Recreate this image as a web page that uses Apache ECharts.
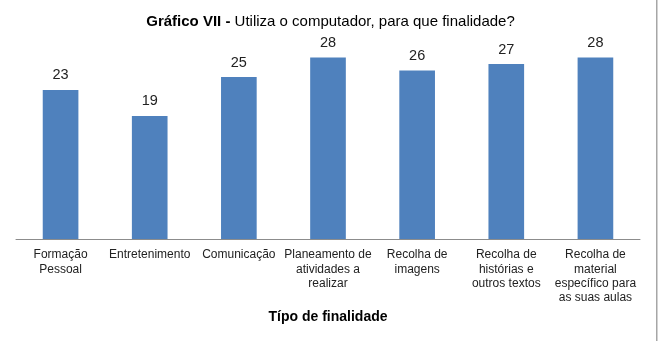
<!DOCTYPE html>
<html>
<head>
<meta charset="utf-8">
<script src="https://cdn.jsdelivr.net/npm/echarts@6/dist/echarts.min.js"></script>
<style>
  html, body { margin: 0; padding: 0; background: #fff; }
  #chart { width: 661px; height: 341px; }
</style>
</head>
<body>
<div id="chart"></div>
<script>
// categorias e valores
const categories = [
  "Formação\nPessoal",
  "Entretenimento",
  "Comunicação",
  "Planeamento de\natividades a\nrealizar",
  "Recolha de\nimagens",
  "Recolha de\nhistórias e\noutros textos",
  "Recolha de\nmaterial\nespecífico para\nas suas aulas"
];
const values = [23, 19, 25, 28, 26, 27, 28];

const font = "'Liberation Sans', Arial, sans-serif";

let chart = echarts.init(document.getElementById("chart"));
chart.setOption({
  animation: false,
  title: {
    text: "{b|Gráfico VII - }{n|Utiliza o computador, para que finalidade?}",
    left: "center",
    top: 9,
    textStyle: {
      rich: {
        b: { fontFamily: font, fontSize: 15, fontWeight: "bold", color: "#000" },
        n: { fontFamily: font, fontSize: 15, fontWeight: "normal", color: "#000" }
      }
    }
  },
  grid: { left: 16, right: 21, top: 44.6, bottom: 102 },
  xAxis: {
    type: "category",
    data: categories,
    name: "Típo de finalidade",
    nameLocation: "middle",
    nameGap: 70,
    nameTextStyle: { fontFamily: font, fontSize: 14, fontWeight: "bold", color: "#000" },
    axisLine: { lineStyle: { color: "#8c8c8c", width: 1 } },
    axisTick: { show: false },
    axisLabel: {
      interval: 0,
      margin: 9,
      fontFamily: font,
      fontSize: 12,
      lineHeight: 14.3,
      color: "#222"
    }
  },
  yAxis: {
    type: "value",
    min: 0,
    max: 30,
    show: false,
    splitLine: { show: false }
  },
  series: [
    {
      type: "bar",
      data: values,
      barWidth: "40%",
      itemStyle: { color: "#4F81BD" },
      label: {
        show: true,
        position: "top",
        distance: 7,
        fontFamily: font,
        fontSize: 14.5,
        color: "#222"
      }
    }
  ],
  graphic: [
    {
      type: "rect",
      shape: { x: 656, y: 0, width: 1.5, height: 341 },
      style: { fill: "#a6a6a6" }
    }
  ]
});
</script>
</body>
</html>
